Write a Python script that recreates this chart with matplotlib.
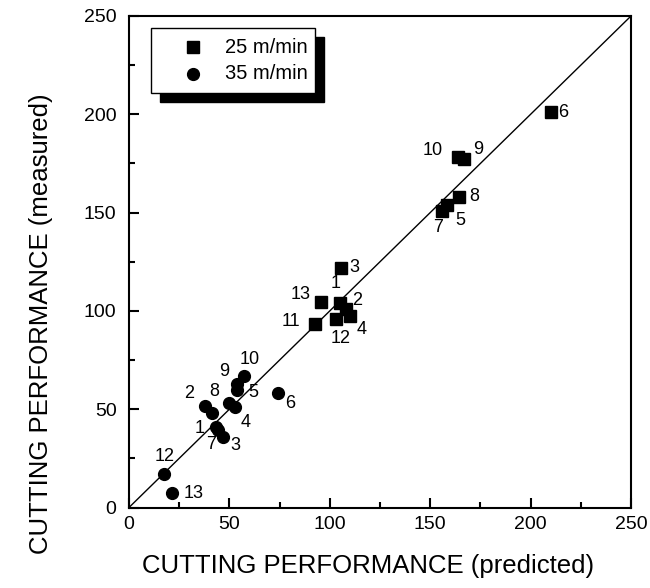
import matplotlib.pyplot as plt
from matplotlib.patches import Rectangle
from matplotlib.ticker import MultipleLocator

plt.rcParams["font.family"] = ["Liberation Sans", "DejaVu Sans"]

# 25 m/min (squares): predicted, measured, sample number
sq_pred = [105.3, 108.3, 105.8, 110.0, 158.5, 210.0, 155.9, 164.3, 166.7, 163.8, 92.5, 103.0, 95.4]
sq_meas = [104.1, 100.8, 122.0, 97.4, 153.9, 201.0, 151.0, 158.1, 177.1, 178.1, 93.3, 95.9, 104.7]
sq_ids = ["1", "2", "3", "4", "5", "6", "7", "8", "9", "10", "11", "12", "13"]

# 35 m/min (circles)
ci_pred = [43.3, 37.8, 46.6, 52.7, 53.6, 74.3, 44.5, 49.9, 53.9, 57.4, 41.4, 17.4, 21.2]
ci_meas = [41.1, 51.6, 35.7, 51.3, 59.8, 58.1, 39.5, 53.3, 62.8, 67.0, 47.9, 17.0, 7.5]
ci_ids = ["1", "2", "3", "4", "5", "6", "7", "8", "9", "10", "11", "12", "13"]

# label offsets in pixels (dx, dy) from marker centre
sq_off = [(-5, 19), (11, 9), (13, 0), (12, -13), (13, -16), (13, 0), (-4, -17),
          (15, 0), (14, 10), (-25, 7), (-24, 3), (5, -20), (-20, 7)]
ci_off = [(-16, -2), (-16, 13), (13, -8), (11, -16), (17, -3), (12, -10), (-7, -15),
          (-15, 11), (-13, 13), (5, 16), None, (1, 18), (22, -1)]

fig = plt.figure(figsize=(6.5, 5.88), dpi=100)
ax = fig.add_axes([129 / 650, (588 - 507.5) / 588, 502 / 650, 491.5 / 588])

ax.plot([0, 250], [0, 250], color="black", lw=1.0, zorder=1)
ax.plot(sq_pred, sq_meas, "s", color="black", ms=8.5, zorder=3)
ax.plot(ci_pred, ci_meas, "o", color="black", ms=8.5, zorder=3)

px2pt = 0.72
for x, y, t, off in zip(sq_pred, sq_meas, sq_ids, sq_off):
    ax.annotate(t, (x, y), xytext=(off[0] * px2pt, off[1] * px2pt),
                textcoords="offset points", ha="center", va="center", fontsize=13)
for x, y, t, off in zip(ci_pred, ci_meas, ci_ids, ci_off):
    if off is None:
        continue
    ax.annotate(t, (x, y), xytext=(off[0] * px2pt, off[1] * px2pt),
                textcoords="offset points", ha="center", va="center", fontsize=13)

ax.set_xlim(0, 250)
ax.set_ylim(0, 250)
ax.xaxis.set_major_locator(MultipleLocator(50))
ax.yaxis.set_major_locator(MultipleLocator(50))
ax.xaxis.set_minor_locator(MultipleLocator(25))
ax.yaxis.set_minor_locator(MultipleLocator(25))
ax.tick_params(which="both", direction="in", top=False, right=False, width=1.5)
ax.tick_params(which="major", length=7, labelsize=14)
ax.tick_params(axis="x", which="major", pad=6)
ax.tick_params(axis="y", which="major", pad=9)
ax.tick_params(which="minor", length=4.5)
for s in ax.spines.values():
    s.set_linewidth(1.5)

ax.set_xlabel("CUTTING PERFORMANCE (predicted)", fontsize=18.5)
ax.set_ylabel("CUTTING PERFORMANCE (measured)", fontsize=18.5)
ax.xaxis.set_label_coords(0.476, -0.095)
ax.yaxis.set_label_coords(-0.151, 0.375)

# legend box with offset black shadow
bx, by, bw, bh = 0.044, 0.843, 0.327, 0.133
sx, sy = 9 / 502, 9 / 491.5
ax.add_patch(Rectangle((bx + sx, by - sy), bw, bh, transform=ax.transAxes,
                       facecolor="black", edgecolor="black", zorder=4))
ax.add_patch(Rectangle((bx, by), bw, bh, transform=ax.transAxes,
                       facecolor="white", edgecolor="black", lw=1.0, zorder=5))
ax.plot([0.128], [0.936], "s", color="black", ms=8.5, transform=ax.transAxes, zorder=6)
ax.plot([0.128], [0.882], "o", color="black", ms=8.5, transform=ax.transAxes, zorder=6)
ax.text(0.191, 0.936, "25 m/min", transform=ax.transAxes, fontsize=14.5,
        va="center", ha="left", zorder=6)
ax.text(0.191, 0.882, "35 m/min", transform=ax.transAxes, fontsize=14.5,
        va="center", ha="left", zorder=6)

fig.savefig("out.png", dpi=100)
